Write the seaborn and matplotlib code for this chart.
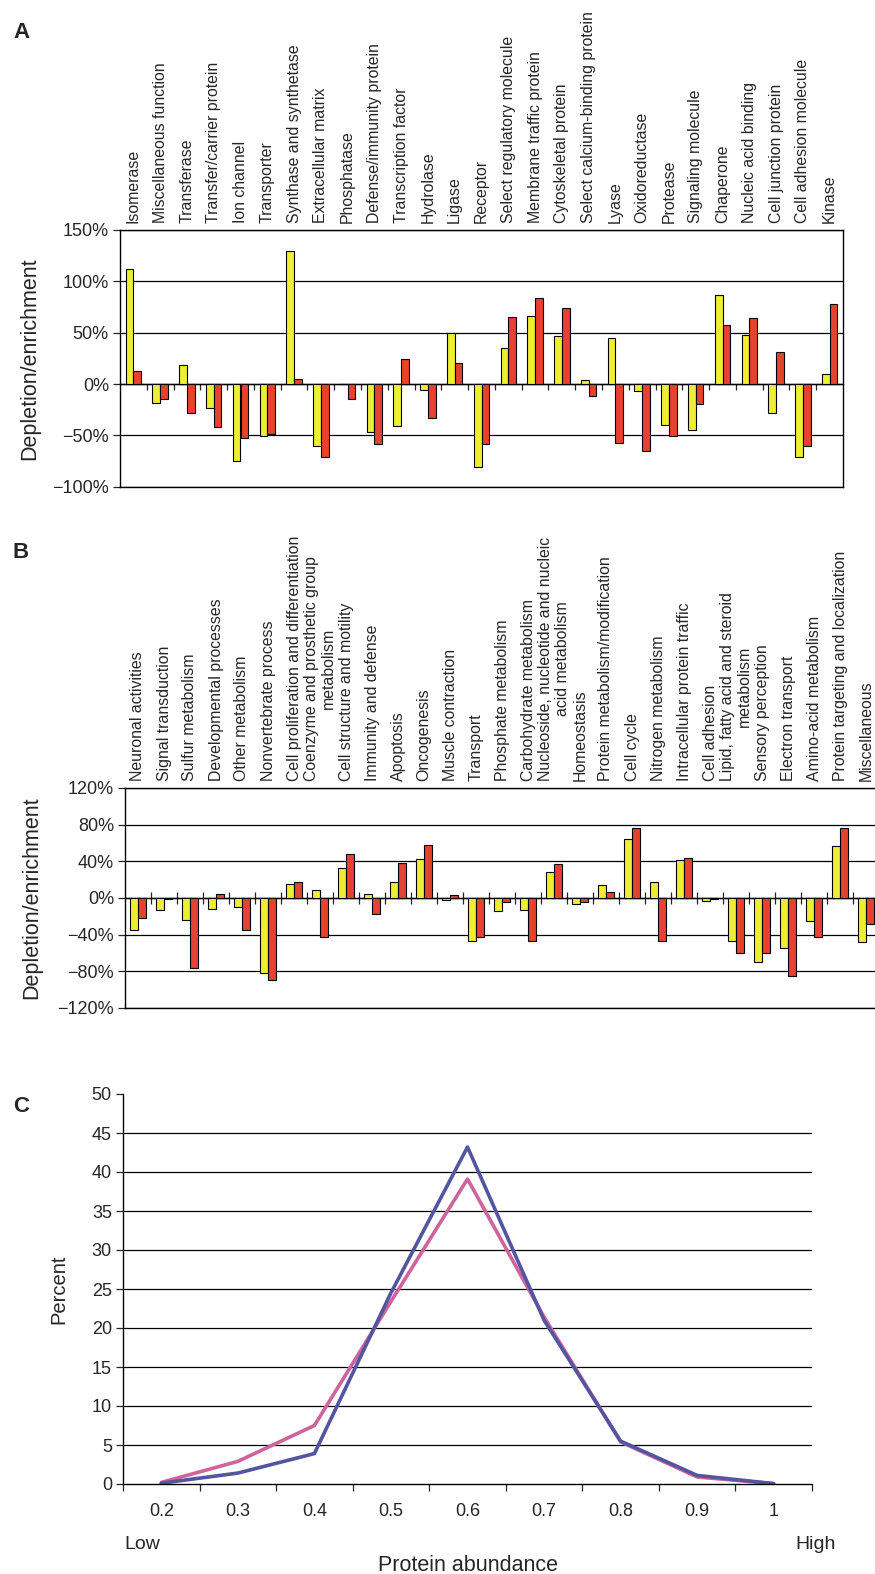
import matplotlib
matplotlib.use("Agg")
import matplotlib.pyplot as plt
import seaborn as sns
import pandas as pd
import numpy as np
from matplotlib.ticker import FuncFormatter, NullFormatter

# ---- panel A: protein classes (depletion/enrichment, %) ----
classes_a = [
    "Isomerase", "Miscellaneous function", "Transferase", "Transfer/carrier protein",
    "Ion channel", "Transporter", "Synthase and synthetase", "Extracellular matrix",
    "Phosphatase", "Defense/immunity protein", "Transcription factor", "Hydrolase",
    "Ligase", "Receptor", "Select regulatory molecule", "Membrane traffic protein",
    "Cytoskeletal protein", "Select calcium-binding protein", "Lyase", "Oxidoreductase",
    "Protease", "Signaling molecule", "Chaperone", "Nucleic acid binding",
    "Cell junction protein", "Cell adhesion molecule", "Kinase",
]
yellow_a = [112, -18, 19, -23, -75, -51, 130, -60, 0, -47, -41, -6, 50, -81,
            35, 66, 47, 4, 45, -7, -40, -45, 87, 48, -28, -71, 10]
red_a = [13, -15, -28, -42, -53, -49, 5, -71, -15, -58, 24, -33, 20, -58,
         65, 84, 74, -12, -57, -65, -51, -19, 57, 64, 31, -60, 78]

# ---- panel B: biological processes ----
classes_b = [
    "Neuronal activities", "Signal transduction", "Sulfur metabolism",
    "Developmental processes", "Other metabolism", "Nonvertebrate process",
    "Cell proliferation and differentiation",
    "Coenzyme and prosthetic group\nmetabolism",
    "Cell structure and motility", "Immunity and defense", "Apoptosis", "Oncogenesis",
    "Muscle contraction", "Transport", "Phosphate metabolism", "Carbohydrate metabolism",
    "Nucleoside, nucleotide and nucleic\nacid metabolism",
    "Homeostasis", "Protein metabolism/modification", "Cell cycle", "Nitrogen metabolism",
    "Intracellular protein traffic", "Cell adhesion",
    "Lipid, fatty acid and steroid\nmetabolism",
    "Sensory perception", "Electron transport", "Amino-acid metabolism",
    "Protein targeting and localization", "Miscellaneous",
]
yellow_b = [-35, -13, -24, -12, -10, -82, 15, 9, 33, 4, 17, 43, -2, -47, -14, -13,
            28, -6, 14, 64, 17, 42, -3, -47, -70, -55, -25, 57, -48]
red_b = [-22, -1, -76, 4, -35, -89, 17, -42, 48, -17, 38, 58, 3, -43, -4, -47,
         37, -4, 7, 76, -47, 44, -1, -60, -60, -85, -43, 76, -28]

# ---- panel C: protein abundance distribution ----
abundance = ["0.2", "0.3", "0.4", "0.5", "0.6", "0.7", "0.8", "0.9", "1"]
pct_pink = [0.2, 2.9, 7.5, 23.4, 39.1, 21.4, 5.4, 0.9, 0.05]
pct_blue = [0.1, 1.4, 3.9, 24.5, 43.2, 21.0, 5.5, 1.1, 0.05]

YELLOW = "#EEEE33"
RED = "#E8412F"
PINK = "#CF639C"
BLUE = "#5355A0"

sns.set_style("white")
plt.rcParams["font.family"] = ["Liberation Sans", "DejaVu Sans"]
plt.rcParams["axes.edgecolor"] = "black"


def pct(v, _):
    return f"{v:.0f}%".replace("-", "\u2212")


def bar_panel(ax, cats, yel, red, ymin, ymax, step, group_width, tick_dir, tick_len):
    n = len(cats)
    df = pd.DataFrame({
        "category": cats * 2,
        "series": ["yellow"] * n + ["red"] * n,
        "value": yel + red,
    })
    sns.barplot(data=df, x="category", y="value", hue="series",
                palette=[YELLOW, RED], saturation=1, width=group_width,
                edgecolor="black", linewidth=0.8, legend=False, ax=ax, zorder=3)
    ax.set_xlim(-0.5, n - 0.5)
    ax.set_ylim(ymin, ymax)
    ax.set_yticks(np.arange(ymin, ymax + 1, step))
    ax.yaxis.set_major_formatter(FuncFormatter(pct))
    ax.yaxis.grid(True, color="black", linewidth=0.9)
    ax.set_axisbelow(True)
    ax.set_xlabel("")
    ax.set_ylabel("Depletion/enrichment", fontsize=15.5)
    ax.yaxis.set_label_coords(-0.11, 0.5)
    ax.tick_params(axis="y", direction="out", length=5, width=0.9, labelsize=13,
                   left=True, pad=3)
    # category labels on top
    ax.xaxis.tick_top()
    ax.tick_params(axis="x", length=0, pad=5, labelsize=11.4)
    for lab in ax.get_xticklabels():
        lab.set_rotation(90)
        lab.set_ha("center")
        lab.set_va("bottom")
        lab.set_multialignment("center")
    for sp in ax.spines.values():
        sp.set_linewidth(1.0)
        sp.set_color("black")
    # zero line with tick marks between categories
    zero = ax.secondary_xaxis((0 - ymin) / (ymax - ymin) - 1e-4)
    zero.set_xticks(np.arange(0.5, n - 1, 1))
    zero.xaxis.set_major_formatter(NullFormatter())
    zero.tick_params(direction=tick_dir, length=tick_len, width=0.9,
                     labelbottom=False, labeltop=False)
    zero.spines["bottom"].set_linewidth(1.0)
    zero.spines["bottom"].set_color("black")


fig = plt.figure(figsize=(8.75, 15.74), dpi=100)
H = 1574.0
W = 875.0

# panel A
ax_a = fig.add_axes([120 / W, 1 - 486.7 / H, 723 / W, 256.7 / H])
bar_panel(ax_a, classes_a, yellow_a, red_a, -100, 150, 50, 0.575, "out", 4)

# panel B (runs past the right edge like the original)
ax_b = fig.add_axes([125 / W, 1 - 1008 / H, 754 / W, 220 / H])
bar_panel(ax_b, classes_b, yellow_b, red_b, -120, 120, 40, 0.6, "inout", 9)
ax_b.spines["right"].set_visible(False)

# panel C
ax_c = fig.add_axes([123 / W, 1 - 1484 / H, 689 / W, 390 / H])
sns.lineplot(x=abundance, y=pct_pink, color=PINK, linewidth=2.6, ax=ax_c, sort=False)
sns.lineplot(x=abundance, y=pct_blue, color=BLUE, linewidth=2.6, ax=ax_c, sort=False)
ax_c.set_xlim(-0.5, len(abundance) - 0.5)
ax_c.set_ylim(0, 50)
ax_c.set_yticks(np.arange(0, 51, 5))
ax_c.set_yticklabels([f"{v:d}" for v in range(0, 51, 5)])
ax_c.yaxis.grid(True, color="black", linewidth=0.9)
for v, tk in zip(ax_c.get_yticks(), ax_c.yaxis.get_major_ticks()):
    if v in (0, 50):
        tk.gridline.set_visible(False)
ax_c.set_axisbelow(True)
ax_c.set_xticks(np.arange(-0.5, len(abundance), 1), minor=True)
ax_c.tick_params(axis="x", which="major", length=0, pad=14, labelsize=13)
ax_c.tick_params(axis="x", which="minor", direction="out", length=5, width=0.9, bottom=True)
ax_c.tick_params(axis="y", direction="out", length=5, width=0.9, labelsize=13,
                 left=True, pad=3)
sns.despine(ax=ax_c)
ax_c.spines["left"].set_linewidth(1.0)
ax_c.spines["bottom"].set_linewidth(1.0)
ax_c.set_ylabel("Percent", fontsize=14.5)
ax_c.yaxis.set_label_coords(-0.08, 0.5)
ax_c.set_xlabel("Protein abundance", fontsize=15.5)
ax_c.xaxis.set_label_coords(0.5, -0.182)
ax_c.text(0.028, -0.134, "Low", transform=ax_c.transAxes, ha="center", va="top", fontsize=14)
ax_c.text(1.005, -0.134, "High", transform=ax_c.transAxes, ha="center", va="top", fontsize=14)

# panel letters
for letter, y in [("A", 33), ("B", 553), ("C", 1106)]:
    fig.text(13 / W, 1 - y / H, letter, fontsize=16, fontweight="bold", va="center", ha="left")

fig.savefig("out.png", dpi=100)
